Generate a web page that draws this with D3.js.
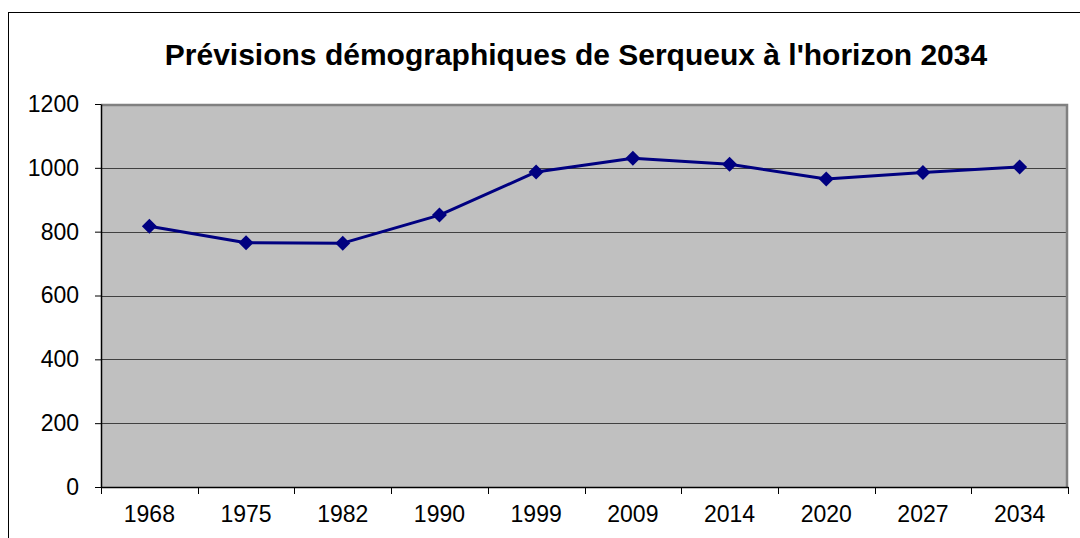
<!DOCTYPE html>
<html>
<head>
<meta charset="utf-8">
<script src="https://cdn.jsdelivr.net/npm/d3@7"></script>
<style>
  html, body { margin: 0; padding: 0; background: #fff; }
  svg { display: block; font-family: "Liberation Sans", Arial, sans-serif; }
</style>
</head>
<body>
<svg id="chart" width="1080" height="538"></svg>
<script>
// Population par année de recensement / projection
const years = ["1968", "1975", "1982", "1990", "1999", "2009", "2014", "2020", "2027", "2034"];
const population = [817, 765, 764, 852, 987, 1030, 1011, 965, 985, 1003];
const yTicks = [0, 200, 400, 600, 800, 1000, 1200];
const titleText = "Prévisions démographiques de Serqueux à l'horizon 2034";

const svg = d3.select("#chart");
const plot = { left: 101, right: 1068, top: 104, bottom: 487 };

// Cadre extérieur du graphique
svg.append("rect")
  .attr("x", 8.5).attr("y", 12.5)
  .attr("width", 1200).attr("height", 700)
  .attr("fill", "#fff").attr("stroke", "#000").attr("stroke-width", 1);

svg.append("text")
  .attr("x", 576).attr("y", 65)
  .attr("text-anchor", "middle")
  .attr("font-weight", "bold")
  .attr("font-size", 30)
  .attr("fill", "#000")
  .text(titleText);

const x = d3.scaleBand().domain(years).range([plot.left, plot.right]);
const y = d3.scaleLinear().domain([0, 1200]).range([plot.bottom, plot.top]);

// Zone de tracé
svg.append("rect")
  .attr("x", plot.left).attr("y", plot.top)
  .attr("width", plot.right - plot.left).attr("height", plot.bottom - plot.top)
  .attr("fill", "#c0c0c0");

// Quadrillage horizontal
svg.append("g")
  .selectAll("line")
  .data(yTicks.filter(d => d > 0 && d < 1200))
  .join("line")
  .attr("x1", plot.left).attr("x2", plot.right)
  .attr("y1", d => Math.round(y(d)) + 0.5).attr("y2", d => Math.round(y(d)) + 0.5)
  .attr("stroke", "#404040").attr("stroke-width", 1);

// Bordure haute et droite
svg.append("path")
  .attr("d", `M${plot.left},${plot.top + 1}H${plot.right - 1}V${plot.bottom}`)
  .attr("fill", "none").attr("stroke", "#808080").attr("stroke-width", 2.5);

// Axe vertical
const yAxis = svg.append("g")
  .attr("transform", `translate(${plot.left},0)`)
  .call(d3.axisLeft(y).tickValues(yTicks).tickFormat(d3.format("d"))
    .tickSize(6).tickPadding(16).tickSizeOuter(0));
yAxis.select(".domain").attr("stroke", "#000").attr("stroke-width", 1.5);
yAxis.selectAll(".tick line").attr("stroke", "#000");
yAxis.selectAll(".tick text")
  .attr("font-family", "Liberation Sans, Arial, sans-serif")
  .attr("font-size", 23).attr("fill", "#000");

// Axe horizontal : graduations aux limites des catégories
const xAxis = svg.append("g")
  .attr("transform", `translate(0,${plot.bottom})`)
  .call(d3.axisBottom(x).tickSize(0).tickPadding(19));
xAxis.select(".domain").attr("stroke", "#000").attr("stroke-width", 1.5);
xAxis.selectAll(".tick text")
  .attr("font-family", "Liberation Sans, Arial, sans-serif")
  .attr("font-size", 23).attr("fill", "#000");

const bounds = years.map(d => x(d)).concat([plot.right]);
xAxis.append("g")
  .selectAll("line")
  .data(bounds)
  .join("line")
  .attr("x1", d => Math.round(d) + 0.5).attr("x2", d => Math.round(d) + 0.5)
  .attr("y1", 0).attr("y2", 7)
  .attr("stroke", "#000").attr("stroke-width", 1);

// Courbe de population
const cx = d => x(d) + x.bandwidth() / 2;
const line = d3.line().x(d => cx(d.year)).y(d => y(d.value));
const points = years.map((yr, i) => ({ year: yr, value: population[i] }));

svg.append("path")
  .datum(points)
  .attr("d", line)
  .attr("fill", "none")
  .attr("stroke", "#000080")
  .attr("stroke-width", 3)
  .attr("stroke-linejoin", "round");

svg.append("g")
  .selectAll("path")
  .data(points)
  .join("path")
  .attr("transform", d => `translate(${cx(d.year)},${y(d.value)})`)
  .attr("d", "M0,-7.5L7.5,0L0,7.5L-7.5,0Z")
  .attr("fill", "#000080");
</script>
</body>
</html>
